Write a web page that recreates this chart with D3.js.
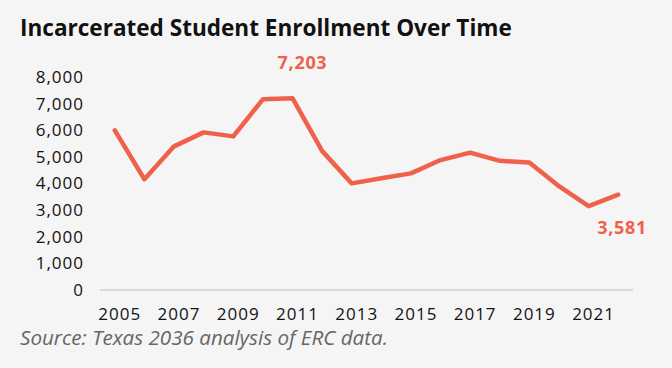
<!DOCTYPE html>
<html><head><meta charset="utf-8">
<script src="https://cdn.jsdelivr.net/npm/d3@7"></script>
<style>
html,body{margin:0;padding:0;background:#f5f5f5;}
svg{display:block;font-family:"Open Sans",sans-serif;}
</style></head>
<body>
<svg id="c" width="672" height="368"></svg>
<script>
const years = [2005,2006,2007,2008,2009,2010,2011,2012,2013,2014,2015,2016,2017,2018,2019,2020,2021,2022];
const enrollment = [5998,4160,5395,5920,5770,7160,7203,5225,4005,4200,4380,4880,5160,4850,4790,3900,3150,3581];
const yTicks = [0,1000,2000,3000,4000,5000,6000,7000,8000];
const xTickYears = [2005,2007,2009,2011,2013,2015,2017,2019,2021];
const labeled = [{year:2011, dx:10, dy:-29}, {year:2022, dx:4, dy:39}];
const title = "Incarcerated Student Enrollment Over Time";
const source = "Source: Texas 2036 analysis of ERC data.";

const svg = d3.select("#c");
const lineColor = "#f0614b";
const x = d3.scaleBand().domain(years).range([100,633]);
const y = d3.scaleLinear().domain([0,8000]).range([290,77]);
const fmt = d3.format(",");

function fit(sel, w){
  const n = sel.node(); const l = n.getComputedTextLength();
  const fs = parseFloat(sel.attr("font-size"));
  sel.attr("font-size", fs*w/l);
}

const t = svg.append("text").attr("x",20).attr("y",36).attr("font-size",21)
  .attr("font-weight",700).attr("fill","#111").text(title);
fit(t, 492);

// baseline
svg.append("line").attr("x1",x.range()[0]).attr("x2",x.range()[1])
  .attr("y1",y(0)).attr("y2",y(0)).attr("stroke","#d9d9d9").attr("stroke-width",2);

// y axis
const yAxis = d3.axisLeft(y).tickValues(yTicks).tickFormat(fmt).tickSize(0).tickPadding(0);
const gy = svg.append("g").attr("transform","translate(84,0)").call(yAxis);
gy.select(".domain").remove();
gy.selectAll("text").attr("font-size",17).attr("letter-spacing","1px").attr("fill","#111").attr("font-family","Open Sans, sans-serif");

// x axis
const xAxis = d3.axisBottom(x).tickValues(xTickYears).tickSize(0).tickPadding(0);
const gx = svg.append("g").attr("transform","translate(5,308)").call(xAxis);
gx.select(".domain").remove();
gx.selectAll("text").attr("font-size",17).attr("letter-spacing","1px").attr("fill","#111").attr("font-family","Open Sans, sans-serif");

// line
const line = d3.line().x((d,i)=>x(years[i])+x.bandwidth()/2).y(d=>y(d));
svg.append("path").datum(enrollment).attr("d",line).attr("fill","none")
  .attr("stroke",lineColor).attr("stroke-width",4.5).attr("stroke-linejoin","round").attr("stroke-linecap","round");

// labels
labeled.forEach(l=>{
  const i = years.indexOf(l.year);
  svg.append("text").attr("x",x(l.year)+x.bandwidth()/2+l.dx).attr("y",y(enrollment[i])+l.dy)
    .attr("text-anchor","middle").attr("font-size",18).attr("font-weight",700).attr("letter-spacing","0.7px")
    .attr("fill",lineColor).text(fmt(enrollment[i]));
});

const s = svg.append("text").attr("x",20).attr("y",345).attr("font-size",16)
  .attr("font-style","italic").attr("fill","#666").text(source);
fit(s, 368);
</script>
</body></html>
